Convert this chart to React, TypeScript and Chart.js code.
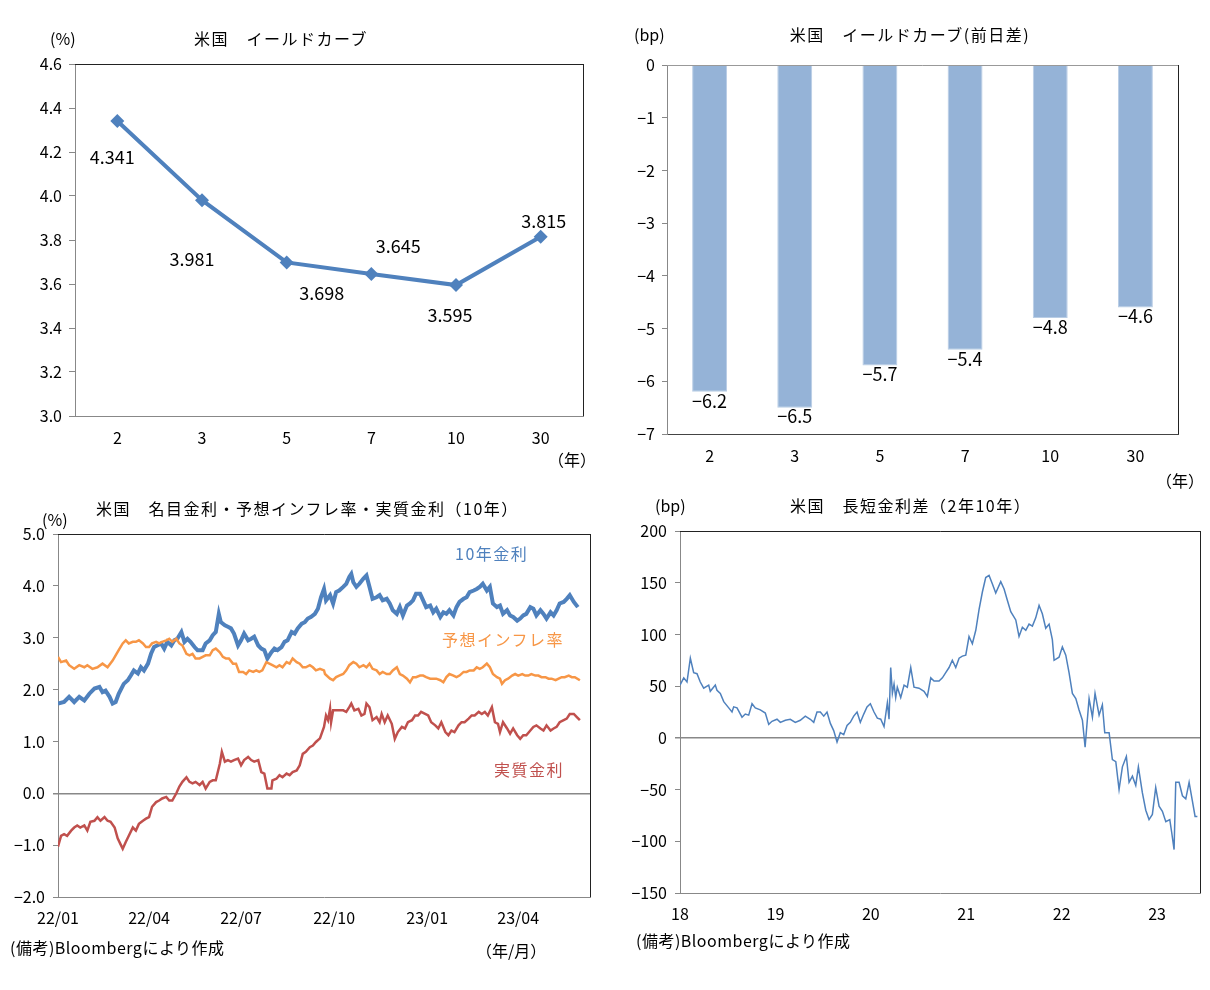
import React, { useEffect, useRef } from 'react';
import { Chart, registerables } from 'chart.js';

Chart.register(...registerables);
Chart.defaults.color = '#000';

const JP = '"Noto Sans CJK JP", "Noto Sans", sans-serif';
const NUM = '"Noto Sans CJK JP", "Noto Sans", sans-serif';

// ---------- Panel 1: yield curve ----------
const maturities = ['2', '3', '5', '7', '10', '30'];
const yieldValues = [4.341, 3.981, 3.698, 3.645, 3.595, 3.815];
const yieldLabelDx = [-5, -10, 35, 27, -6, 3];
const yieldLabelDy = [36, 59, 31, -28, 30, -16];

// ---------- Panel 2: daily change (bp) ----------
const yieldChange = [-6.2, -6.5, -5.7, -5.4, -4.8, -4.6];

// ---------- Panel 3: 10y nominal / breakeven / real (days since 2022-01-01) ----------
const monthTickDays = [0, 90, 181, 273, 365, 455];
const monthTickLabels = ['22/01', '22/04', '22/07', '22/10', '23/01', '23/04'];

const nominalDays = [0,6,11,16,21,26,31,36,41,44,47,51,54,57,60,65,69,72,75,79,82,85,89,92,95,98,102,105,108,112,115,118,122,125,128,131,135,138,143,146,150,153,156,159,161,165,168,171,174,178,181,184,188,191,194,198,201,204,207,211,214,217,221,224,227,231,234,237,241,244,247,250,254,257,260,263,265,269,272,275,278,282,285,288,290,292,295,298,302,305,308,311,315,318,321,325,328,331,335,338,341,345,348,351,354,358,361,364,368,371,374,378,381,384,387,391,394,397,401,404,407,411,414,417,420,424,427,430,434,437,440,444,447,450,454,457,460,463,467,470,473,477,480,483,487,490,493,496,500,503,506,510,514];
const nominalValues = [1.73,1.76,1.86,1.76,1.86,1.79,1.92,2.02,2.05,1.95,1.98,1.86,1.73,1.76,1.92,2.11,2.18,2.27,2.37,2.31,2.43,2.37,2.50,2.69,2.82,2.85,2.89,2.79,2.92,2.85,2.95,2.98,3.11,2.92,2.98,2.92,2.82,2.76,2.76,2.89,2.95,3.05,3.11,3.46,3.30,3.24,3.21,3.18,3.08,2.85,2.95,3.08,2.95,2.98,3.02,2.85,2.79,2.76,2.60,2.72,2.79,2.76,2.82,2.92,2.95,3.11,3.08,3.18,3.27,3.30,3.37,3.40,3.46,3.56,3.78,3.94,3.72,3.82,3.66,3.88,3.91,3.98,4.04,4.17,4.23,4.07,3.98,4.04,4.14,4.20,3.98,3.75,3.78,3.82,3.72,3.75,3.66,3.53,3.46,3.59,3.43,3.62,3.66,3.72,3.85,3.85,3.72,3.59,3.62,3.49,3.56,3.40,3.49,3.46,3.53,3.43,3.59,3.69,3.75,3.78,3.88,3.91,3.94,3.98,4.04,3.91,3.98,3.66,3.59,3.62,3.46,3.53,3.43,3.40,3.33,3.37,3.43,3.46,3.59,3.56,3.43,3.53,3.46,3.37,3.49,3.43,3.53,3.66,3.69,3.75,3.82,3.69,3.59];

const breakevenDays = [0,3,8,11,16,21,26,29,34,39,44,49,54,57,60,64,67,70,74,77,80,84,87,90,93,97,100,103,107,110,113,117,120,123,127,130,133,136,140,143,146,150,153,156,160,163,166,169,173,176,179,183,186,189,193,196,199,202,206,209,212,216,219,222,226,229,232,236,239,242,245,249,252,255,259,263,264,269,272,275,278,282,285,288,292,295,298,302,305,308,311,315,318,321,325,328,331,335,338,341,345,348,351,354,358,361,364,368,371,374,378,381,384,387,391,394,397,401,404,407,411,414,417,420,424,427,430,434,437,439,442,445,449,452,455,459,462,465,468,472,475,478,482,485,488,492,495,498,501,505,508,511,516];
const breakevenValues = [2.63,2.53,2.56,2.47,2.40,2.47,2.43,2.47,2.40,2.43,2.50,2.43,2.56,2.66,2.76,2.89,2.95,2.89,2.92,2.92,2.95,2.89,2.82,2.82,2.89,2.92,2.89,2.92,2.95,2.98,2.92,2.98,2.89,2.85,2.69,2.66,2.69,2.60,2.60,2.63,2.66,2.66,2.76,2.79,2.72,2.63,2.60,2.60,2.50,2.50,2.34,2.34,2.30,2.37,2.34,2.37,2.34,2.37,2.53,2.50,2.47,2.43,2.47,2.43,2.53,2.50,2.60,2.53,2.50,2.43,2.43,2.47,2.43,2.37,2.40,2.37,2.30,2.21,2.18,2.24,2.27,2.30,2.37,2.47,2.53,2.50,2.43,2.47,2.43,2.50,2.40,2.37,2.30,2.34,2.30,2.30,2.37,2.43,2.30,2.27,2.21,2.14,2.24,2.24,2.27,2.27,2.24,2.21,2.21,2.21,2.18,2.14,2.24,2.30,2.27,2.24,2.27,2.34,2.34,2.37,2.37,2.43,2.40,2.43,2.50,2.43,2.30,2.24,2.21,2.11,2.18,2.21,2.27,2.30,2.27,2.30,2.27,2.27,2.30,2.27,2.27,2.24,2.24,2.21,2.21,2.18,2.21,2.24,2.24,2.27,2.24,2.24,2.18];

const realDays = [0,3,6,9,13,16,19,22,26,29,32,36,39,42,46,49,52,56,59,62,64,67,70,74,77,80,84,87,90,93,97,100,103,107,110,113,117,120,123,127,130,133,136,140,143,146,150,153,156,160,162,165,168,171,174,178,181,184,188,191,194,198,201,204,207,211,212,216,219,222,226,229,232,236,239,242,245,249,252,255,259,263,265,267,269,270,272,275,278,282,285,288,290,293,297,300,303,305,308,311,315,318,320,323,326,330,333,336,340,343,346,350,353,356,359,363,366,369,373,376,379,383,386,389,392,396,399,402,406,409,412,416,419,422,425,429,432,435,437,440,444,447,450,454,457,460,463,467,470,473,477,480,483,487,490,493,496,500,503,506,510,513,516];
const realValues = [-1.03,-0.82,-0.79,-0.82,-0.72,-0.66,-0.62,-0.66,-0.62,-0.72,-0.55,-0.53,-0.46,-0.53,-0.46,-0.53,-0.55,-0.66,-0.87,-0.99,-1.07,-0.94,-0.82,-0.66,-0.72,-0.59,-0.53,-0.49,-0.46,-0.26,-0.17,-0.14,-0.10,-0.07,-0.14,-0.14,0.00,0.13,0.22,0.31,0.22,0.19,0.22,0.16,0.22,0.09,0.22,0.25,0.25,0.57,0.80,0.61,0.64,0.61,0.64,0.67,0.54,0.64,0.70,0.64,0.61,0.64,0.41,0.38,0.09,0.09,0.25,0.28,0.35,0.31,0.38,0.35,0.41,0.44,0.54,0.76,0.80,0.89,0.92,0.99,1.06,1.28,1.50,1.41,1.63,1.37,1.60,1.60,1.60,1.60,1.57,1.66,1.73,1.60,1.63,1.50,1.53,1.73,1.66,1.41,1.47,1.37,1.53,1.37,1.50,1.34,1.05,1.18,1.28,1.25,1.37,1.41,1.50,1.50,1.57,1.53,1.50,1.37,1.31,1.25,1.37,1.18,1.12,1.21,1.18,1.31,1.37,1.37,1.44,1.50,1.50,1.57,1.53,1.57,1.50,1.66,1.37,1.34,1.18,1.37,1.25,1.15,1.25,1.12,1.05,1.12,1.12,1.21,1.28,1.31,1.25,1.21,1.31,1.21,1.25,1.28,1.37,1.41,1.44,1.53,1.53,1.47,1.41];

// ---------- Panel 4: 2y-10y spread (months since 2018-01) ----------
const yearTickMonths = [0, 12, 24, 36, 48, 60];
const yearTickLabels = ['18', '19', '20', '21', '22', '23'];
const spreadMonths = [0,0.47,0.88,1.30,1.72,2.14,2.55,2.98,3.61,3.81,4.44,4.65,5.07,5.50,6.13,6.54,6.75,7.17,7.80,8.21,8.64,9.06,9.47,10.10,10.73,11.16,11.57,12.20,12.62,13.25,13.87,14.50,15.13,15.76,16.39,16.82,17.23,17.65,18.08,18.49,18.91,19.33,19.75,20.16,20.59,21.01,21.42,21.85,22.27,22.68,23.11,23.52,23.94,24.40,24.82,25.25,25.66,26.08,26.29,26.50,26.71,26.92,27.13,27.33,27.76,28.18,28.59,29.02,29.43,30.06,30.69,31.11,31.54,31.95,32.58,33.00,33.42,33.84,34.25,34.68,35.10,35.51,35.94,36.35,36.77,37.20,37.61,38.03,38.45,38.87,39.28,39.71,40.34,40.76,41.17,41.60,42.23,42.64,43.06,43.49,43.90,44.32,44.74,45.16,45.57,46.00,46.42,46.83,47.05,47.67,48.09,48.52,48.93,49.35,49.78,50.19,50.61,50.95,51.45,51.87,52.20,52.71,53.12,53.42,53.97,54.38,54.81,55.22,55.64,56.14,56.48,56.90,57.32,57.65,58.15,58.58,58.99,59.41,59.83,60.25,60.67,61.10,61.60,61.85,62.14,62.35,62.77,63.19,63.61,64.03,64.44,64.78,65.07];
const spreadValues = [51,58,54,77,63,62,54,48,51,45,51,46,43,35,29,25,30,29,20,23,22,33,29,27,24,13,16,18,15,17,18,15,17,21,18,15,25,25,21,25,14,7,-4,5,3,12,15,21,25,15,23,30,33,25,19,18,11,34,18,68,43,52,39,49,39,51,49,68,49,48,45,40,58,55,55,58,63,68,75,68,77,79,80,98,91,104,124,141,155,157,149,140,151,144,133,122,114,98,107,104,110,108,116,128,120,106,110,95,75,78,88,80,63,43,38,27,17,-9,38,20,43,22,32,5,5,-21,-23,-50,-28,-18,-43,-37,-46,-28,-53,-70,-79,-74,-48,-66,-71,-81,-79,-92,-108,-43,-43,-56,-59,-43,-61,-76,-76];

const BLUE = '#4F81BD';
const ORANGE = '#F79646';
const RED = '#C0504D';
const BAR = '#95B3D7';

const minus = (s: string) => s.replace('-', '\u2212');
const pts = (xs: number[], ys: number[]) => xs.map((x, i) => ({ x, y: ys[i] }));

function framePlugin(topColor: string, rightColor: string) {
  return {
    id: 'frame',
    afterDraw(chart: any) {
      const { ctx, chartArea: a } = chart;
      ctx.save();
      ctx.lineWidth = 1;
      ctx.strokeStyle = topColor;
      ctx.beginPath();
      ctx.moveTo(a.left, Math.round(a.top) + 0.5);
      ctx.lineTo(Math.round(a.right) + 0.5, Math.round(a.top) + 0.5);
      ctx.stroke();
      ctx.strokeStyle = rightColor;
      ctx.beginPath();
      ctx.moveTo(Math.round(a.right) + 0.5, a.top);
      ctx.lineTo(Math.round(a.right) + 0.5, a.bottom);
      ctx.stroke();
      ctx.restore();
    },
  };
}

const baseOpts = (pad: any) => ({
  responsive: false,
  animation: false as const,
  events: [] as any[],
  layout: { padding: pad },
  plugins: { legend: { display: false }, tooltip: { enabled: false } },
});

function ChartBox({ left, top, width, height, make }: any) {
  const ref = useRef<HTMLCanvasElement>(null);
  useEffect(() => {
    const chart = new Chart(ref.current as HTMLCanvasElement, make());
    return () => chart.destroy();
  }, []);
  return (
    <canvas
      ref={ref}
      width={width}
      height={height}
      style={{ position: 'absolute', left, top, width, height }}
    />
  );
}

function T({ x, y, children, color = '#000', size = 16, center = false, ls = 1.5 }: any) {
  return (
    <div
      style={{
        position: 'absolute',
        left: x,
        top: y - 10,
        fontSize: size,
        lineHeight: '20px',
        color,
        letterSpacing: ls,
        whiteSpace: 'nowrap',
        fontFamily: JP,
        transform: center ? 'translateX(-50%)' : undefined,
      }}
    >
      {children}
    </div>
  );
}

const tickFont = { family: NUM, size: 16 };

function makeYieldCurve() {
  return {
    type: 'line',
    data: {
      labels: maturities,
      datasets: [
        {
          data: yieldValues,
          borderColor: BLUE,
          backgroundColor: BLUE,
          borderWidth: 4,
          pointStyle: 'rectRot',
          pointRadius: 7,
          pointBorderWidth: 0,
          tension: 0,
        },
      ],
    },
    options: {
      ...baseOpts({ left: 0, top: 64, right: 22, bottom: 14 }),
      scales: {
        x: {
          offset: true,
          grid: { display: false, drawTicks: false },
          border: { color: '#888' },
          ticks: { font: tickFont, padding: 12, maxRotation: 0 },
          afterFit: (s: any) => { s.height = 40; },
        },
        y: {
          min: 3,
          max: 4.6,
          grid: { color: 'rgba(0,0,0,0)', tickColor: '#888', tickLength: 6 },
          border: { color: '#888' },
          ticks: { stepSize: 0.2, font: tickFont, padding: 7, callback: (v: number) => v.toFixed(1) },
          afterFit: (s: any) => { s.width = 75; },
        },
      },
    },
    plugins: [
      framePlugin('#222', '#222'),
      {
        id: 'valueLabels',
        afterDatasetsDraw(chart: any) {
          const { ctx } = chart;
          const meta = chart.getDatasetMeta(0);
          ctx.save();
          ctx.font = `18px ${NUM}`;
          ctx.fillStyle = '#000';
          ctx.textAlign = 'center';
          ctx.textBaseline = 'middle';
          meta.data.forEach((p: any, i: number) => {
            ctx.fillText(yieldValues[i].toFixed(3), p.x + yieldLabelDx[i], p.y + yieldLabelDy[i]);
          });
          ctx.restore();
        },
      },
    ],
  };
}

function makeChangeBars() {
  return {
    type: 'bar',
    data: {
      labels: maturities,
      datasets: [
        {
          data: yieldChange,
          backgroundColor: BAR,
          borderColor: '#B9CDE5',
          borderWidth: 1,
          barPercentage: 0.41,
          categoryPercentage: 1,
        },
      ],
    },
    options: {
      ...baseOpts({ left: 0, top: 65, right: 32, bottom: 16 }),
      scales: {
        x: {
          grid: { display: false, drawTicks: false },
          border: { color: '#444' },
          ticks: { font: tickFont, padding: 12, maxRotation: 0 },
          afterFit: (s: any) => { s.height = 40; },
        },
        y: {
          min: -7,
          max: 0,
          grid: { color: 'rgba(0,0,0,0)', tickColor: '#888', tickLength: 5 },
          border: { color: '#888' },
          ticks: { stepSize: 1, font: tickFont, padding: 7, callback: (v: number) => minus(String(v)) },
          afterFit: (s: any) => { s.width = 62; },
        },
      },
    },
    plugins: [
      framePlugin('#999', '#222'),
      {
        id: 'barLabels',
        afterDatasetsDraw(chart: any) {
          const { ctx } = chart;
          const meta = chart.getDatasetMeta(0);
          ctx.save();
          ctx.font = `18px ${NUM}`;
          ctx.fillStyle = '#000';
          ctx.textAlign = 'center';
          ctx.textBaseline = 'middle';
          meta.data.forEach((b: any, i: number) => {
            ctx.fillText(minus(yieldChange[i].toFixed(1)), b.x, b.y + 9);
          });
          ctx.restore();
        },
      },
    ],
  };
}

function makeRates() {
  return {
    type: 'line',
    data: {
      datasets: [
        { data: pts(realDays, realValues), borderColor: RED, borderWidth: 2.5, pointRadius: 0, tension: 0 },
        { data: pts(breakevenDays, breakevenValues), borderColor: ORANGE, borderWidth: 2.5, pointRadius: 0, tension: 0 },
        { data: pts(nominalDays, nominalValues), borderColor: BLUE, borderWidth: 4, pointRadius: 0, tension: 0 },
      ],
    },
    options: {
      ...baseOpts({ left: 0, top: 44, right: 15, bottom: 53 }),
      scales: {
        x: {
          type: 'linear',
          min: 0,
          max: 526,
          grid: { display: false, drawTicks: false },
          border: { color: '#888' },
          afterBuildTicks: (s: any) => { s.ticks = monthTickDays.map((v) => ({ value: v })); },
          ticks: {
            font: tickFont,
            padding: 11,
            maxRotation: 0,
            autoSkip: false,
            callback: (_v: number, i: number) => monthTickLabels[i],
          },
          afterFit: (s: any) => { s.height = 40; },
        },
        y: {
          min: -2,
          max: 5,
          grid: {
            color: (c: any) => (c.tick && c.tick.value === 0 ? '#888' : 'rgba(0,0,0,0)'),
            tickColor: '#888',
            tickLength: 5,
            lineWidth: (c: any) => (c.tick && c.tick.value === 0 ? 1.5 : 1),
          },
          border: { color: '#888' },
          ticks: { stepSize: 1, font: tickFont, padding: 8, callback: (v: number) => minus(v.toFixed(1)) },
          afterFit: (s: any) => { s.width = 58; },
        },
      },
    },
    plugins: [framePlugin('#222', '#222')],
  };
}

function makeSpread() {
  return {
    type: 'line',
    data: {
      datasets: [
        { data: pts(spreadMonths, spreadValues), borderColor: BLUE, borderWidth: 1.5, pointRadius: 0, tension: 0 },
      ],
    },
    options: {
      ...baseOpts({ left: 0, top: 41, right: 10, bottom: 57 }),
      scales: {
        x: {
          type: 'linear',
          min: 0,
          max: 65.4,
          grid: { display: false, drawTicks: false },
          border: { color: '#888' },
          afterBuildTicks: (s: any) => { s.ticks = yearTickMonths.map((v) => ({ value: v })); },
          ticks: {
            font: tickFont,
            padding: 11,
            maxRotation: 0,
            autoSkip: false,
            callback: (_v: number, i: number) => yearTickLabels[i],
          },
          afterFit: (s: any) => { s.height = 40; },
        },
        y: {
          min: -150,
          max: 200,
          grid: {
            color: (c: any) => (c.tick && c.tick.value === 0 ? '#888' : 'rgba(0,0,0,0)'),
            tickColor: '#888',
            tickLength: 5,
            lineWidth: (c: any) => (c.tick && c.tick.value === 0 ? 1.5 : 1),
          },
          border: { color: '#888' },
          ticks: { stepSize: 50, font: tickFont, padding: 8, callback: (v: number) => minus(String(v)) },
          afterFit: (s: any) => { s.width = 75; },
        },
      },
    },
    plugins: [framePlugin('#222', '#222')],
  };
}

export default function App() {
  return (
    <div style={{ position: 'absolute', left: 0, top: 0, width: 1210, height: 990, background: '#fff', overflow: 'hidden' }}>
      <ChartBox left={0} top={0} width={605} height={470} make={makeYieldCurve} />
      <ChartBox left={605} top={0} width={605} height={490} make={makeChangeBars} />
      <ChartBox left={0} top={490} width={605} height={500} make={makeRates} />
      <ChartBox left={605} top={490} width={605} height={500} make={makeSpread} />

      <T x={50} y={38} ls={0}>(%)</T>
      <T x={281} y={38} center>米国　イールドカーブ</T>
      <T x={548} y={459} ls={0}>（年）</T>

      <T x={634} y={34} ls={0}>(bp)</T>
      <T x={910} y={34} center>米国　イールドカーブ(前日差)</T>
      <T x={1156} y={480} ls={0}>（年）</T>

      <T x={96} y={508}>米国　名目金利・予想インフレ率・実質金利（10年）</T>
      <T x={42} y={519} ls={0}>(%)</T>
      <T x={455} y={553} color={BLUE}>10年金利</T>
      <T x={442} y={639} color={ORANGE}>予想インフレ率</T>
      <T x={494} y={769} color={RED}>実質金利</T>
      <T x={10} y={947} ls={0.5}>(備考)Bloombergにより作成</T>
      <T x={476} y={950} ls={0}>（年/月）</T>

      <T x={655} y={505} ls={0}>(bp)</T>
      <T x={790} y={505}>米国　長短金利差（2年10年）</T>
      <T x={636} y={940} ls={0.5}>(備考)Bloombergにより作成</T>
    </div>
  );
}
